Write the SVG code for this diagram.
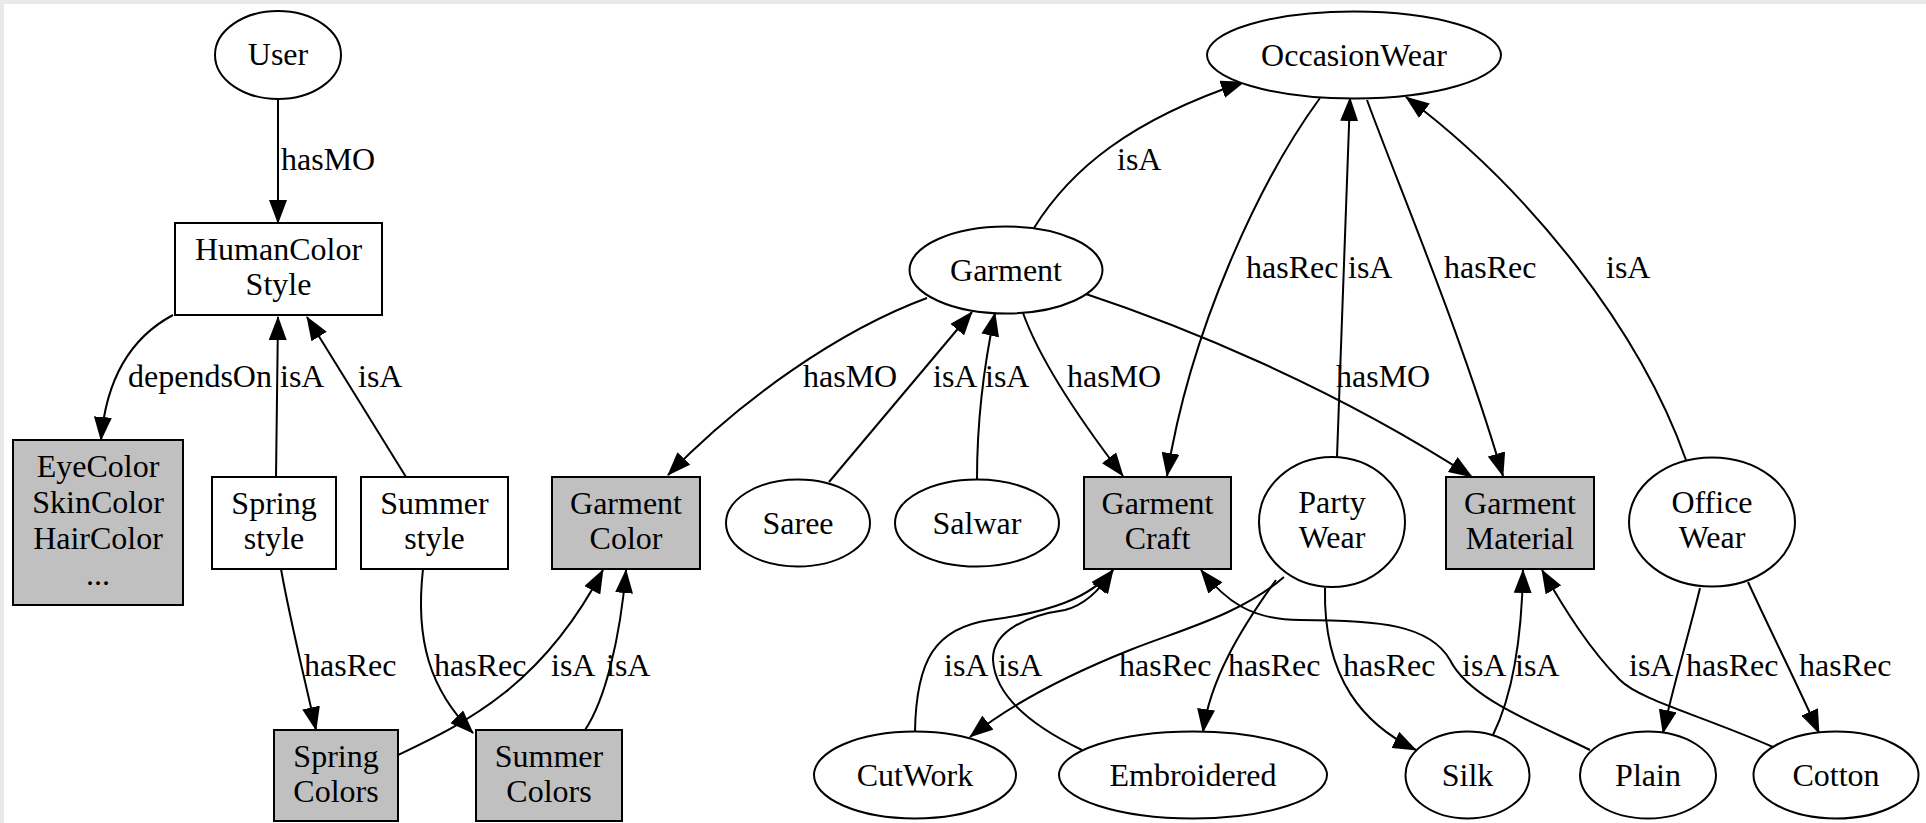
<svg xmlns="http://www.w3.org/2000/svg" width="1926" height="823" viewBox="0 0 1926 823">
<defs>
<marker id="ah" markerWidth="24" markerHeight="18" refX="23" refY="9" orient="auto" markerUnits="userSpaceOnUse"><path d="M0,0 L24,9 L0,18 z" fill="#000"/></marker>
<style>
text{font-family:"Liberation Serif","Times New Roman",serif;font-size:32px;fill:#000}
.n text{text-anchor:middle}
.n ellipse,.n rect{stroke:#000;stroke-width:2;fill:#fff}
.n rect.g{fill:#c0c0c0}
#edges path{fill:none;stroke:#000;stroke-width:2;marker-end:url(#ah)}
</style>
</defs>
<rect x="0" y="0" width="1926" height="823" fill="#fff"/>
<rect x="0" y="0" width="1926" height="4" fill="#e9e9e9"/>
<rect x="0" y="0" width="4" height="823" fill="#e9e9e9"/>

<g id="edges">
<path d="M278,99 L278,223"/>
<path d="M173,315 C130,338 106,380 101,440"/>
<path d="M276,477 L278,317"/>
<path d="M406,477 L307,317"/>
<path d="M281,569 C290,620 305,680 316,730"/>
<path d="M423,569 C415,640 430,690 473,733"/>
<path d="M398,755 C460,725 540,690 603,570"/>
<path d="M585,730 C605,700 620,640 626,570"/>
<path d="M1034,228 C1070,170 1130,120 1244,82"/>
<path d="M927,298 C840,330 740,400 668,475"/>
<path d="M829,482 L972,312"/>
<path d="M977,479 C977,420 985,360 995,313"/>
<path d="M1023,313 C1040,360 1080,420 1123,476"/>
<path d="M1083,293 C1180,325 1330,385 1472,477"/>
<path d="M1320,98 C1260,180 1190,330 1167,476"/>
<path d="M1337,457 L1350,98"/>
<path d="M1367,100 C1400,190 1460,330 1503,476"/>
<path d="M1686,460 C1640,330 1530,190 1406,97"/>
<path d="M915,732 C916,660 935,628 990,620 C1050,612 1090,598 1113,570"/>
<path d="M1082,750 C1030,725 995,695 993,660 C992,630 1030,615 1065,610 C1085,605 1100,590 1113,570"/>
<path d="M1284,577 C1240,615 1180,630 1130,650 C1060,678 1010,705 970,737"/>
<path d="M1276,580 C1240,630 1210,680 1203,732"/>
<path d="M1325,588 C1323,680 1365,725 1416,750"/>
<path d="M1590,750 C1540,725 1470,700 1450,660 C1430,625 1380,620 1300,620 C1250,620 1225,600 1201,570"/>
<path d="M1493,735 C1515,690 1522,630 1523,570"/>
<path d="M1773,747 C1700,715 1640,700 1620,680 C1590,650 1565,610 1542,570"/>
<path d="M1700,588 C1690,630 1672,690 1663,733"/>
<path d="M1748,582 C1770,630 1800,690 1819,733"/>
<g id="edge-labels">
<text x="281" y="170">hasMO</text>
<text x="128" y="387">dependsOn</text>
<text x="280" y="387">isA</text>
<text x="358" y="387">isA</text>
<text x="304" y="676">hasRec</text>
<text x="434" y="676">hasRec</text>
<text x="551" y="676">isA</text>
<text x="606" y="676">isA</text>
<text x="1117" y="170">isA</text>
<text x="803" y="387">hasMO</text>
<text x="933" y="387">isA</text>
<text x="985" y="387">isA</text>
<text x="1067" y="387">hasMO</text>
<text x="1336" y="387">hasMO</text>
<text x="1246" y="278">hasRec</text>
<text x="1348" y="278">isA</text>
<text x="1444" y="278">hasRec</text>
<text x="1606" y="278">isA</text>
<text x="944" y="676">isA</text>
<text x="998" y="676">isA</text>
<text x="1119" y="676">hasRec</text>
<text x="1228" y="676">hasRec</text>
<text x="1343" y="676">hasRec</text>
<text x="1462" y="676">isA</text>
<text x="1515" y="676">isA</text>
<text x="1629" y="676">isA</text>
<text x="1686" y="676">hasRec</text>
<text x="1799" y="676">hasRec</text>
</g>
</g>

<g id="User" class="n"><ellipse cx="278" cy="55" rx="63" ry="44"/><text x="278" y="65">User</text></g>
<g id="HumanColorStyle" class="n"><rect x="175" y="223" width="207" height="92"/><text x="278.5" y="260">HumanColor</text><text x="278.5" y="295">Style</text></g>
<g id="EyeColor" class="n"><rect class="g" x="13" y="440" width="170" height="165"/><text x="98" y="477">EyeColor</text><text x="98" y="513">SkinColor</text><text x="98" y="549">HairColor</text><text x="98" y="585">...</text></g>
<g id="SpringStyle" class="n"><rect x="212" y="477" width="124" height="92"/><text x="274" y="514">Spring</text><text x="274" y="549">style</text></g>
<g id="SummerStyle" class="n"><rect x="361" y="477" width="147" height="92"/><text x="434.5" y="514">Summer</text><text x="434.5" y="549">style</text></g>
<g id="GarmentColor" class="n"><rect class="g" x="552" y="477" width="148" height="92"/><text x="626" y="514">Garment</text><text x="626" y="549">Color</text></g>
<g id="SpringColors" class="n"><rect class="g" x="274" y="730" width="124" height="91"/><text x="336" y="767">Spring</text><text x="336" y="802">Colors</text></g>
<g id="SummerColors" class="n"><rect class="g" x="476" y="730" width="146" height="91"/><text x="549" y="767">Summer</text><text x="549" y="802">Colors</text></g>
<g id="OccasionWear" class="n"><ellipse cx="1354" cy="55" rx="147" ry="43.5"/><text x="1354" y="65.5">OccasionWear</text></g>
<g id="Garment" class="n"><ellipse cx="1006" cy="270" rx="96.5" ry="43.5"/><text x="1006" y="280.5">Garment</text></g>
<g id="Saree" class="n"><ellipse cx="798" cy="523" rx="72" ry="43.5"/><text x="798" y="533.5">Saree</text></g>
<g id="Salwar" class="n"><ellipse cx="977" cy="523" rx="82" ry="43.5"/><text x="977" y="533.5">Salwar</text></g>
<g id="GarmentCraft" class="n"><rect class="g" x="1084" y="477" width="147" height="92"/><text x="1157.5" y="514">Garment</text><text x="1157.5" y="549">Craft</text></g>
<g id="PartyWear" class="n"><ellipse cx="1332" cy="522" rx="73" ry="65"/><text x="1332" y="513">Party</text><text x="1332" y="548">Wear</text></g>
<g id="GarmentMaterial" class="n"><rect class="g" x="1446" y="477" width="148" height="92"/><text x="1520" y="514">Garment</text><text x="1520" y="549">Material</text></g>
<g id="OfficeWear" class="n"><ellipse cx="1712" cy="522" rx="83" ry="64.5"/><text x="1712" y="513">Office</text><text x="1712" y="548">Wear</text></g>
<g id="CutWork" class="n"><ellipse cx="915" cy="775" rx="101" ry="43.5"/><text x="915" y="785.5">CutWork</text></g>
<g id="Embroidered" class="n"><ellipse cx="1193" cy="775" rx="134" ry="43.5"/><text x="1193" y="785.5">Embroidered</text></g>
<g id="Silk" class="n"><ellipse cx="1467.5" cy="775" rx="62" ry="43.5"/><text x="1467.5" y="785.5">Silk</text></g>
<g id="Plain" class="n"><ellipse cx="1648" cy="775" rx="68" ry="43.5"/><text x="1648" y="785.5">Plain</text></g>
<g id="Cotton" class="n"><ellipse cx="1836" cy="775" rx="82.5" ry="43.5"/><text x="1836" y="785.5">Cotton</text></g>
</svg>
